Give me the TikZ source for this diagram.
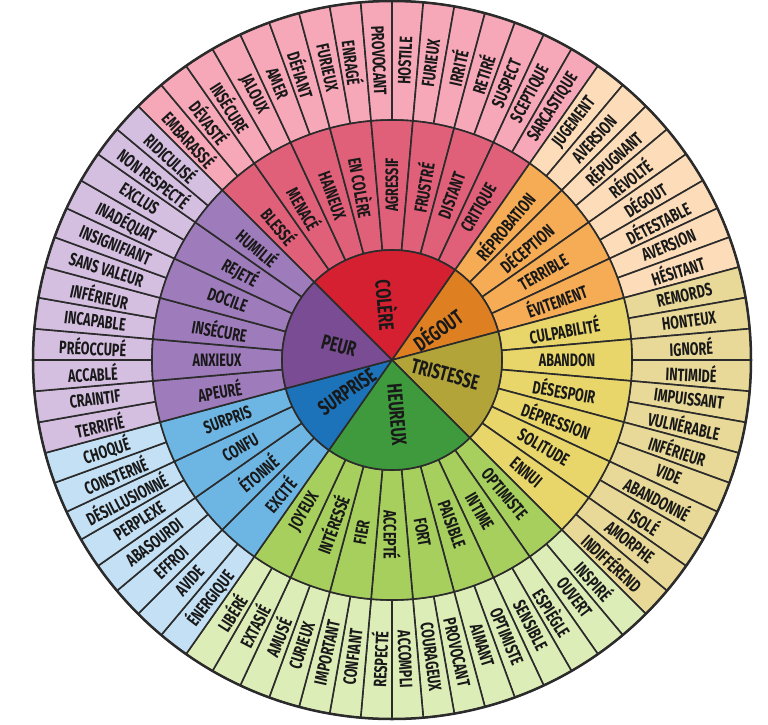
\documentclass[tikz,border=0pt]{standalone}
\usepackage{fontspec}
\setmainfont{Fira Sans}[FakeStretch=0.7]
\definecolor{linec}{HTML}{2B2B2B}
\definecolor{c1}{HTML}{D42030}\definecolor{m1}{HTML}{E0607A}\definecolor{o1}{HTML}{F7A8B8}
\definecolor{c2}{HTML}{DE7F22}\definecolor{m2}{HTML}{F6AC55}\definecolor{o2}{HTML}{FDDDB9}
\definecolor{c3}{HTML}{B3A43A}\definecolor{m3}{HTML}{E8D66A}\definecolor{o3}{HTML}{E9D998}
\definecolor{c4}{HTML}{3E9A3C}\definecolor{m4}{HTML}{A6CF5E}\definecolor{o4}{HTML}{DDEDB8}
\definecolor{c5}{HTML}{1C73BA}\definecolor{m5}{HTML}{6DB6E4}\definecolor{o5}{HTML}{C4E0F4}
\definecolor{c6}{HTML}{7A4C93}\definecolor{m6}{HTML}{9E7BBA}\definecolor{o6}{HTML}{D4BFE1}
\tikzset{lbl/.style={font=\bfseries\fontsize{18}{18}\selectfont, text=black!90, inner sep=0pt},
  corelbl/.style={font=\bfseries\fontsize{21}{21}\selectfont, text=black!90, inner sep=0pt},
  wedge/.style={draw=linec, line width=1.6pt, line join=round}}
% #1 r1, #2 r2, #3 start angle, #4 step, #5 colour, #6 name prefix, #7 words, #8 label style
\newcommand\wring[8]{%
\foreach \w [count=\i] in {#7}{%
 \pgfmathsetmacro\aa{#3-(\i-1)*#4}%
 \pgfmathsetmacro\ab{\aa-#4}%
 \pgfmathsetmacro\am{\aa-#4/2}%
 \pgfmathsetmacro\rr{(#1+#2)/2}%
 \pgfmathsetmacro\rot{(\am>90||\am<-90)?\am+180:\am}%
 \filldraw[wedge, fill=#5] (\aa:#1pt) arc[start angle=\aa,end angle=\ab,radius=#1pt] -- (\ab:#2pt) arc[start angle=\ab,end angle=\aa,radius=#2pt] -- cycle;
 \node[#8, rotate=\rot] (#6\i) at (\am:\rr pt) {\w};
}}
\begin{document}
\begin{tikzpicture}
\useasboundingbox[fill=white] (-392pt,-364pt) rectangle (376pt,360pt);
% outer ring
\wring{240}{359}{135}{5}{o1}{oa}{EMBARASSÉ,DÉVASTÉ,INSÉCURE,JALOUX,AMER,DÉFIANT,FURIEUX,ENRAGÉ,PROVOCANT,HOSTILE,FURIEUX,IRRITÉ,RETIRÉ,SUSPECT,SCEPTIQUE,SARCASTIQUE}{lbl}
\wring{240}{359}{55}{5}{o2}{ob}{JUGEMENT,AVERSION,RÉPUGNANT,RÉVOLTÉ,DÉGOUT,DÉTESTABLE,AVERSION,HÉSITANT}{lbl}
\wring{240}{359}{15}{5}{o3}{oc}{REMORDS,HONTEUX,IGNORÉ,INTIMIDÉ,IMPUISSANT,VULNÉRABLE,INFÉRIEUR,VIDE,ABANDONNÉ,ISOLÉ,AMORPHE,INDIFFÉREND}{lbl}
\wring{240}{359}{-45}{5}{o4}{od}{INSPIRÉ,OUVERT,ESPIÈGLE,SENSIBLE,OPTIMISTE,AIMANT,PROVOCANT,COURAGEUX,ACCOMPLI,RESPECTÉ,CONFIANT,IMPORTANT,CURIEUX,AMUSÉ,EXTASIÉ,LIBÉRÉ}{lbl}
\wring{240}{359}{-125}{5}{o5}{oe}{ÉNERGIQUE,AVIDE,EFFROI,ABASOURDI,PERPLEXE,DÉSILLUSIONNÉ,CONSTERNÉ,CHOQUÉ}{lbl}
\wring{240}{359}{-165}{5}{o6}{of}{TERRIFIÉ,CRAINTIF,ACCABLÉ,PRÉOCCUPÉ,INCAPABLE,INFÉRIEUR,SANS VALEUR,INSIGNIFIANT,INADÉQUAT,EXCLUS,NON RESPECTÉ,RIDICULISÉ}{lbl}
% middle ring
\wring{110}{240}{135}{10}{m1}{ma}{BLESSÉ,MENACÉ,HAINEUX,EN COLÈRE,AGRESSIF,FRUSTRÉ,DISTANT,CRITIQUE}{lbl}
\wring{110}{240}{55}{10}{m2}{mb}{RÉPROBATION,DÉCEPTION,TERRIBLE,ÉVITEMENT}{lbl}
\wring{110}{240}{15}{10}{m3}{mc}{CULPABILITÉ,ABANDON,DÉSESPOIR,DÉPRESSION,SOLITUDE,ENNUI}{lbl}
\wring{110}{240}{-45}{10}{m4}{md}{OPTIMISTE,INTIME,PAISIBLE,FORT,ACCEPTÉ,FIER,INTÉRESSÉ,JOYEUX}{lbl}
\wring{110}{240}{-125}{10}{m5}{me}{EXCITÉ,ÉTONNÉ,CONFU,SURPRIS}{lbl}
\wring{110}{240}{-165}{10}{m6}{mf}{APEURÉ,ANXIEUX,INSÉCURE,DOCILE,REJETÉ,HUMILIÉ}{lbl}
% core
\wring{0}{110}{135}{80}{c1}{ca}{COLÈRE}{corelbl}
\wring{0}{110}{55}{40}{c2}{cb}{DÉGOUT}{corelbl}
\wring{0}{110}{15}{60}{c3}{cc}{TRISTESSE}{corelbl}
\wring{0}{110}{-45}{80}{c4}{cd}{HEUREUX}{corelbl}
\wring{0}{110}{-125}{40}{c5}{ce}{SURPRISE}{corelbl}
\wring{0}{110}{-165}{60}{c6}{cf}{PEUR}{corelbl}
\draw[linec, line width=2.5pt] (0,0) circle[radius=359pt];
\end{tikzpicture}
\end{document}
